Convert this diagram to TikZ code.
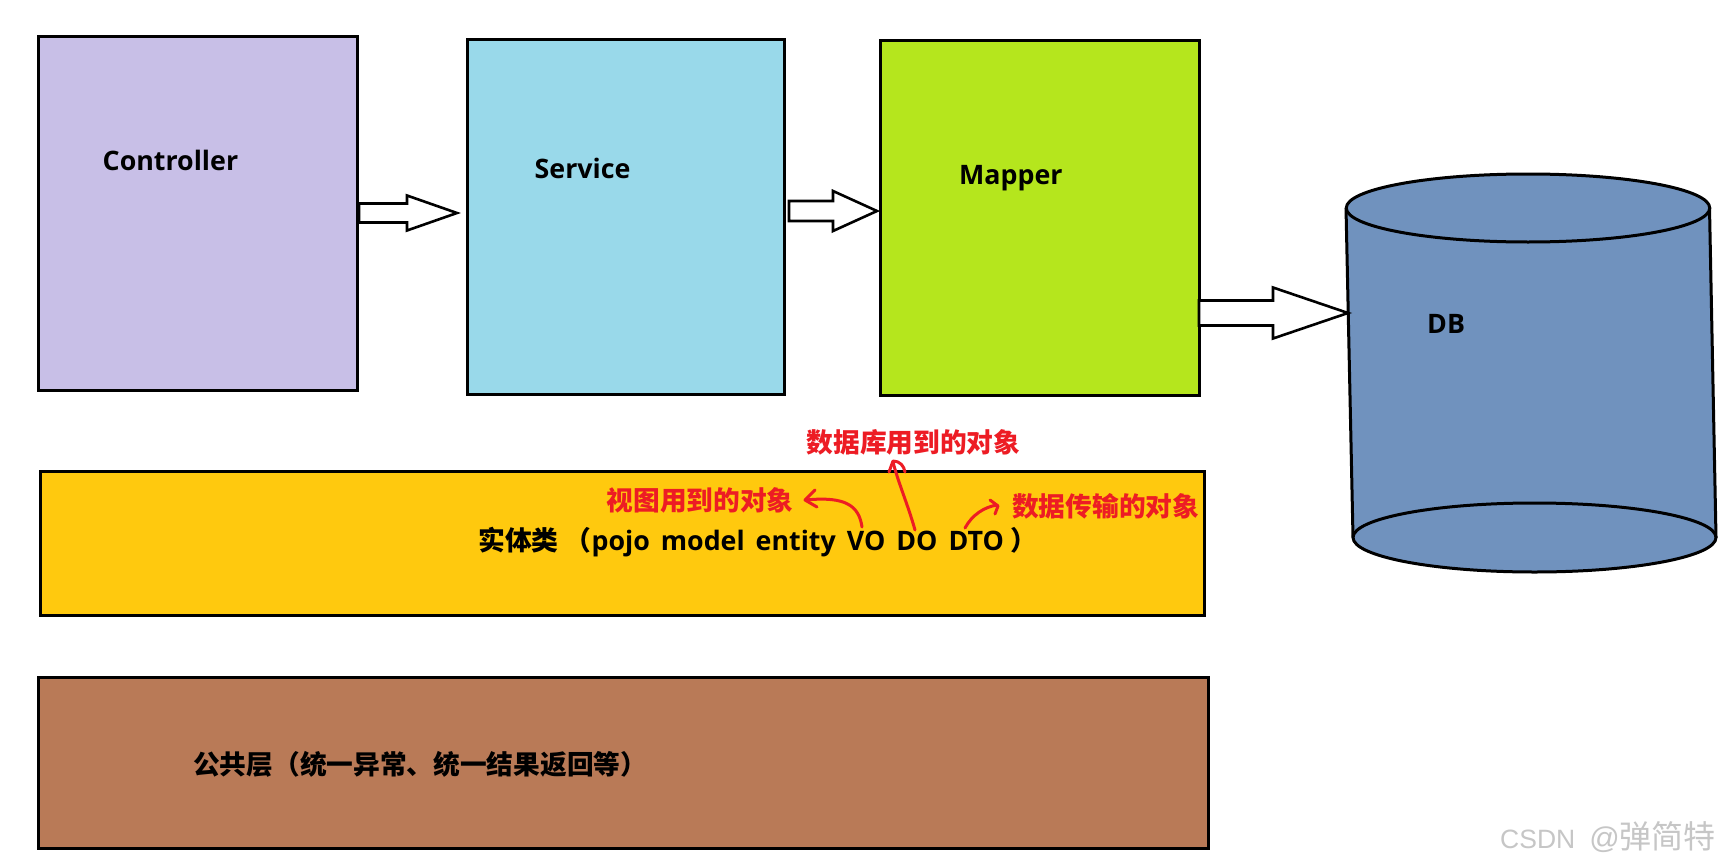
\documentclass[tikz,border=0pt]{standalone}
\usepackage{fontspec}
\setmainfont{Open Sans}
\newfontfamily\cjk{Noto Sans CJK SC}
\newfontfamily\wmfont{Liberation Sans}
\definecolor{ctrlc}{HTML}{C8BFE7}
\definecolor{servc}{HTML}{99D9EA}
\definecolor{mapc}{HTML}{B5E61D}
\definecolor{dbc}{HTML}{7092BE}
\definecolor{entc}{HTML}{FFC90E}
\definecolor{comc}{HTML}{B97A57}
\definecolor{penred}{HTML}{ED1C24}
\definecolor{wmgray}{HTML}{C6C6C6}
\newcommand\blockarr[6]{%
  \filldraw[blockarrow] (#1,{#4-#5}) -- (#2,{#4-#5}) -- (#2,{#4-#6}) -- (#3,#4)
    -- (#2,{#4+#6}) -- (#2,{#4+#5}) -- (#1,{#4+#5}) -- cycle;}
\begin{document}
\begin{tikzpicture}[x=1pt,y=-1pt,
  layer/.style={draw=black, line width=3pt, anchor=north west, inner sep=0pt},
  lbl/.style={anchor=base west, inner sep=0pt, font=\fontsize{26.8}{32}\selectfont\bfseries},
  cjklbl/.style={anchor=west, inner sep=0pt, font=\fontsize{26.7}{32}\selectfont\cjk\bfseries},
  redlbl/.style={cjklbl, text=penred},
  blockarrow/.style={draw=black, fill=white, line width=2.6pt, line join=miter},
  redpen/.style={draw=penred, line width=3pt, line cap=round, line join=round}]
\useasboundingbox[fill=white] (0,0) rectangle (1726,867);

% layers
\node[layer, fill=ctrlc, minimum width=319pt, minimum height=354pt] (ctrl) at (37,35) {};
\node[layer, fill=servc, minimum width=317pt, minimum height=355pt] (serv) at (466,38) {};
\node[layer, fill=mapc, minimum width=319pt, minimum height=354pt] (mapr) at (878.5,39.5) {};
\node[layer, fill=entc, minimum width=1164.5pt, minimum height=144pt] (ent) at (38.5,470) {};
\node[layer, fill=comc, minimum width=1170pt, minimum height=171pt] (com) at (37,675.5) {};

% database cylinder
\fill[dbc] (1346,208) -- (1353,537.5) -- (1716,537.5) -- (1709.5,208) -- cycle;
\filldraw[fill=dbc, draw=black, line width=3pt] (1534.5,537.5) ellipse [x radius=181.5, y radius=34.5];
\draw[black, line width=3pt] (1346,208) -- (1353,537.5) (1709.5,208) -- (1716,537.5);
\filldraw[fill=dbc, draw=black, line width=3pt] (1528,208) ellipse [x radius=181.75, y radius=34];
\coordinate (db) at (1348,313);

% labels
\node[lbl] (ctrltxt) at (102.5,170.5) {Controller};
\node[lbl] (servtxt) at (534.5,178) {Service};
\node[lbl] (maptxt) at (959,184.5) {Mapper};
\node[lbl] (dbtxt) at (1427,333) {DB};
\node[lbl] (enttxt) at (478,550) {{\cjk 实体类 （}{\spaceskip=11pt pojo model entity VO DO DTO} {\cjk ）}};
\node[cjklbl] (comtxt) at (193,764.5) {公共层（统一异常、统一结果返回等）};

% block arrows
\blockarr{359}{407}{457}{213}{9.5}{17.5}
\blockarr{789}{833}{877}{211}{10}{20}
\blockarr{1199}{1273}{1348}{313}{12.5}{25.5}

% red annotations
\node[redlbl] (volbl) at (606.5,500) {视图用到的对象};
\node[redlbl] (dolbl) at (806.5,442) {数据库用到的对象};
\node[redlbl] (dtolbl) at (1012,506) {数据传输的对象};
\coordinate (vo) at (862,527);
\coordinate (do) at (915,530);
\coordinate (dto) at (965,528);
\draw[redpen] (vo) .. controls (859,506) and (846,496) .. (806,500);
\draw[redpen] (815,490) -- (805,500) -- (817,507);
\draw[redpen] (do) .. controls (908,505) and (898,482) .. (893,462);
\draw[redpen] (889,472) -- (893,461) .. controls (900,461) and (904,466) .. (905,472);
\draw[redpen] (dto) .. controls (972,515) and (984,507) .. (997,505);
\draw[redpen] (990,500) -- (998,506) -- (995,514);

% watermark
\node[anchor=west, inner sep=0pt, text=wmgray, font=\fontsize{26.5}{30}\selectfont\wmfont] (wm) at (1500,837) {CSDN\hspace{14pt}{\fontsize{30}{30}\selectfont @}{\cjk\fontsize{32}{32}\selectfont 弹简特}};
\end{tikzpicture}
\end{document}
